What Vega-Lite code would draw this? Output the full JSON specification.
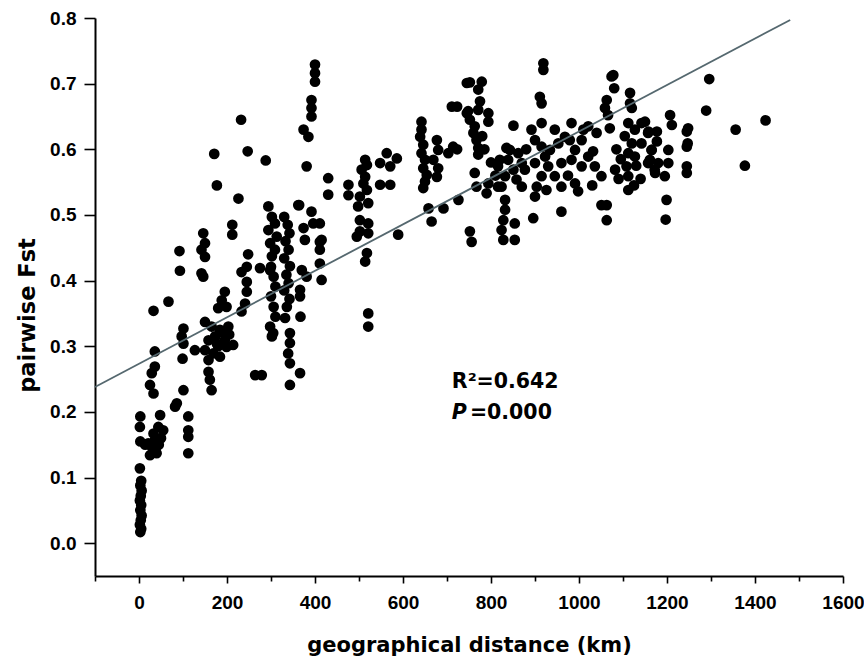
{
  "$schema": "https://vega.github.io/schema/vega-lite/v6.json",
  "width": 748,
  "height": 558,
  "autosize": "none",
  "padding": {"left": 95, "top": 18, "right": 21, "bottom": 82},
  "background": "white",
  "config": {"view": {"stroke": null}, "font": "Liberation Sans"},
  "layer": [
    {
      "data": {"values": [
        {"d":3,"f":0.017},{"d":5,"f":0.022},{"d":2,"f":0.028},{"d":4,"f":0.035},{"d":6,"f":0.042},{"d":3,"f":0.050},{"d":5,"f":0.058},{"d":2,"f":0.065},{"d":4,"f":0.072},{"d":6,"f":0.080},{"d":3,"f":0.088},{"d":5,"f":0.095},{"d":2,"f":0.114},{"d":3,"f":0.155},{"d":2,"f":0.177},{"d":3,"f":0.193},{"d":14,"f":0.150},
        {"d":33,"f":0.354},{"d":67,"f":0.368},{"d":36,"f":0.292},{"d":36,"f":0.269},{"d":29,"f":0.259},{"d":25,"f":0.241},{"d":33,"f":0.228},{"d":48,"f":0.195},{"d":44,"f":0.177},{"d":55,"f":0.172},{"d":36,"f":0.157},{"d":29,"f":0.147},{"d":25,"f":0.134},{"d":40,"f":0.137},{"d":33,"f":0.167},{"d":21,"f":0.152},{"d":50,"f":0.160},{"d":45,"f":0.150},{"d":38,"f":0.145},
        {"d":112,"f":0.193},{"d":112,"f":0.172},{"d":112,"f":0.162},{"d":112,"f":0.137},
        {"d":101,"f":0.233},{"d":86,"f":0.213},{"d":82,"f":0.208},
        {"d":101,"f":0.327},{"d":97,"f":0.315},{"d":101,"f":0.304},{"d":127,"f":0.294},{"d":99,"f":0.281},
        {"d":92,"f":0.445},{"d":93,"f":0.415},
        {"d":146,"f":0.472},{"d":150,"f":0.457},{"d":142,"f":0.447},{"d":150,"f":0.436},{"d":142,"f":0.411},{"d":146,"f":0.406},
        {"d":150,"f":0.337},{"d":165,"f":0.330},{"d":184,"f":0.325},{"d":203,"f":0.330},{"d":214,"f":0.302},{"d":158,"f":0.309},{"d":177,"f":0.304},{"d":195,"f":0.309},{"d":150,"f":0.294},{"d":169,"f":0.289},{"d":184,"f":0.284},{"d":158,"f":0.279},{"d":199,"f":0.299},{"d":173,"f":0.315},{"d":192,"f":0.320},{"d":180,"f":0.300},{"d":205,"f":0.318},
        {"d":158,"f":0.261},{"d":161,"f":0.249},{"d":165,"f":0.233},
        {"d":195,"f":0.383},{"d":188,"f":0.370},{"d":180,"f":0.358},{"d":199,"f":0.360},
        {"d":212,"f":0.485},{"d":212,"f":0.470},
        {"d":171,"f":0.593},{"d":247,"f":0.597},{"d":288,"f":0.583},{"d":177,"f":0.545},{"d":226,"f":0.525},{"d":232,"f":0.645},
        {"d":248,"f":0.440},{"d":245,"f":0.421},{"d":233,"f":0.413},{"d":275,"f":0.419},{"d":298,"f":0.416},{"d":245,"f":0.398},{"d":245,"f":0.383},{"d":241,"f":0.365},{"d":233,"f":0.353},
        {"d":264,"f":0.256},{"d":279,"f":0.256},
        {"d":298,"f":0.330},{"d":305,"f":0.320},
        {"d":294,"f":0.513},{"d":302,"f":0.497},{"d":309,"f":0.487},{"d":294,"f":0.477},{"d":313,"f":0.467},{"d":298,"f":0.457},{"d":309,"f":0.447},{"d":302,"f":0.437},
        {"d":300,"f":0.421},{"d":306,"f":0.406},{"d":310,"f":0.391},{"d":300,"f":0.376},{"d":306,"f":0.360},{"d":310,"f":0.345},{"d":302,"f":0.315},
        {"d":330,"f":0.497},{"d":338,"f":0.485},{"d":342,"f":0.472},{"d":333,"f":0.460},{"d":340,"f":0.447},{"d":330,"f":0.434},{"d":343,"f":0.422},{"d":335,"f":0.409},{"d":340,"f":0.396},{"d":330,"f":0.385},{"d":342,"f":0.372},{"d":336,"f":0.360},{"d":332,"f":0.343},{"d":343,"f":0.320},{"d":343,"f":0.305},{"d":339,"f":0.289},{"d":343,"f":0.274},{"d":343,"f":0.241},{"d":366,"f":0.259},
        {"d":364,"f":0.515},{"d":374,"f":0.480},{"d":377,"f":0.462},{"d":370,"f":0.416},{"d":366,"f":0.376},{"d":367,"f":0.345},
        {"d":392,"f":0.505},{"d":411,"f":0.487},{"d":411,"f":0.459},{"d":411,"f":0.447},{"d":411,"f":0.426},{"d":415,"f":0.401},
        {"d":396,"f":0.487},{"d":415,"f":0.462},{"d":381,"f":0.406},{"d":366,"f":0.386},
        {"d":400,"f":0.729},{"d":400,"f":0.716},{"d":400,"f":0.703},{"d":392,"f":0.675},{"d":392,"f":0.663},{"d":392,"f":0.650},{"d":374,"f":0.630},{"d":385,"f":0.619},{"d":381,"f":0.574},{"d":430,"f":0.556},{"d":430,"f":0.531},{"d":362,"f":0.515},
        {"d":514,"f":0.584},{"d":518,"f":0.576},{"d":506,"f":0.569},{"d":514,"f":0.558},{"d":510,"f":0.548},{"d":518,"f":0.538},{"d":502,"f":0.528},{"d":521,"f":0.518},{"d":498,"f":0.513},{"d":502,"f":0.492},{"d":521,"f":0.487},{"d":502,"f":0.475},{"d":521,"f":0.472},{"d":495,"f":0.467},{"d":518,"f":0.442},{"d":514,"f":0.429},{"d":521,"f":0.350},{"d":521,"f":0.330},
        {"d":476,"f":0.546},{"d":476,"f":0.530},
        {"d":548,"f":0.579},{"d":563,"f":0.594},{"d":586,"f":0.586},{"d":571,"f":0.574},{"d":571,"f":0.546},{"d":548,"f":0.546},{"d":589,"f":0.470},
        {"d":642,"f":0.642},{"d":642,"f":0.630},{"d":639,"f":0.619},{"d":646,"f":0.607},{"d":642,"f":0.594},{"d":650,"f":0.584},{"d":646,"f":0.571},{"d":654,"f":0.561},{"d":650,"f":0.551},{"d":646,"f":0.541},
        {"d":677,"f":0.614},{"d":680,"f":0.599},{"d":669,"f":0.584},{"d":680,"f":0.571},{"d":677,"f":0.558},{"d":714,"f":0.604},{"d":703,"f":0.594},{"d":658,"f":0.510},{"d":665,"f":0.490},{"d":692,"f":0.510},{"d":726,"f":0.523},{"d":711,"f":0.665},{"d":745,"f":0.701},{"d":745,"f":0.655},{"d":752,"f":0.475},
        {"d":752,"f":0.702},{"d":779,"f":0.703},{"d":771,"f":0.691},{"d":775,"f":0.673},{"d":748,"f":0.658},{"d":771,"f":0.660},{"d":794,"f":0.655},{"d":752,"f":0.645},{"d":763,"f":0.635},{"d":794,"f":0.642},{"d":760,"f":0.625},{"d":767,"f":0.614},{"d":771,"f":0.602},{"d":771,"f":0.592},{"d":780,"f":0.620},{"d":785,"f":0.600},
        {"d":723,"f":0.665},{"d":723,"f":0.600},
        {"d":835,"f":0.602},{"d":820,"f":0.584},{"d":839,"f":0.584},{"d":862,"f":0.594},{"d":870,"f":0.579},{"d":816,"f":0.574},{"d":851,"f":0.569},{"d":877,"f":0.569},{"d":832,"f":0.559},{"d":858,"f":0.554},{"d":816,"f":0.543},{"d":870,"f":0.543},{"d":843,"f":0.599},
        {"d":824,"f":0.543},{"d":832,"f":0.523},{"d":832,"f":0.508},{"d":828,"f":0.492},{"d":824,"f":0.477},{"d":828,"f":0.462},{"d":854,"f":0.487},{"d":854,"f":0.462},
        {"d":763,"f":0.564},{"d":767,"f":0.543},{"d":794,"f":0.548},{"d":790,"f":0.533},{"d":851,"f":0.636},{"d":756,"f":0.459},
        {"d":892,"f":0.630},{"d":915,"f":0.640},{"d":900,"f":0.614},{"d":945,"f":0.630},{"d":953,"f":0.609},{"d":923,"f":0.589},{"d":930,"f":0.574},{"d":945,"f":0.559},{"d":915,"f":0.559},{"d":900,"f":0.579},{"d":960,"f":0.579},{"d":915,"f":0.604},{"d":968,"f":0.619},{"d":934,"f":0.599},{"d":904,"f":0.543},{"d":926,"f":0.538},{"d":960,"f":0.543},{"d":983,"f":0.640},{"d":979,"f":0.614},{"d":900,"f":0.528},{"d":896,"f":0.495},{"d":960,"f":0.505},{"d":919,"f":0.731},{"d":919,"f":0.721},{"d":911,"f":0.680},{"d":915,"f":0.670},
        {"d":1006,"f":0.614},{"d":991,"f":0.599},{"d":1032,"f":0.597},{"d":1021,"f":0.635},{"d":983,"f":0.584},{"d":1006,"f":0.574},{"d":991,"f":0.548},{"d":998,"f":0.536},{"d":1036,"f":0.574},{"d":1051,"f":0.559},{"d":1021,"f":0.589},{"d":1051,"f":0.515},{"d":1063,"f":0.515},{"d":1063,"f":0.492},
        {"d":1078,"f":0.713},{"d":1074,"f":0.711},{"d":1080,"f":0.693},{"d":1063,"f":0.675},{"d":1059,"f":0.663},{"d":1066,"f":0.652},{"d":1070,"f":0.632},{"d":1082,"f":0.569},
        {"d":1116,"f":0.686},{"d":1116,"f":0.670},{"d":1120,"f":0.663},{"d":1112,"f":0.640},{"d":1127,"f":0.630},{"d":1142,"f":0.640},{"d":1157,"f":0.625},{"d":1104,"f":0.620},{"d":1120,"f":0.609},{"d":1142,"f":0.609},{"d":1165,"f":0.599},{"d":1112,"f":0.594},{"d":1127,"f":0.589},{"d":1157,"f":0.579},{"d":1172,"f":0.569},{"d":1108,"f":0.574},{"d":1112,"f":0.559},{"d":1112,"f":0.538},
        {"d":1296,"f":0.707},{"d":1289,"f":0.659},{"d":1356,"f":0.630},{"d":1424,"f":0.644},{"d":1377,"f":0.575},{"d":1207,"f":0.652},{"d":1211,"f":0.637},{"d":1248,"f":0.632},{"d":1245,"f":0.627},{"d":1247,"f":0.609},{"d":1245,"f":0.604},{"d":1245,"f":0.574},{"d":1245,"f":0.564},{"d":1199,"f":0.523},{"d":1197,"f":0.493},{"d":1150,"f":0.642},{"d":1158,"f":0.627},{"d":1177,"f":0.627},{"d":1177,"f":0.612},{"d":1165,"f":0.599},{"d":1203,"f":0.599},{"d":1161,"f":0.584},{"d":1180,"f":0.579},{"d":1203,"f":0.579},{"d":1173,"f":0.564},{"d":1195,"f":0.559},
        {"d":1040,"f":0.625},{"d":1010,"f":0.630},{"d":1085,"f":0.600},{"d":1095,"f":0.585},{"d":1090,"f":0.555},{"d":1030,"f":0.545},{"d":975,"f":0.560},{"d":880,"f":0.600},{"d":810,"f":0.560},{"d":800,"f":0.580},{"d":1130,"f":0.575},{"d":1140,"f":0.555},{"d":1125,"f":0.545}
      ]},
      "mark": {"type": "circle", "size": 115, "color": "black", "opacity": 1},
      "encoding": {
        "x": {"field": "d", "type": "quantitative",
          "scale": {"domain": [-100, 1600], "nice": false, "zero": false},
          "axis": {"title": "geographical distance (km)", "values": [-100,0,100,200,300,400,500,600,700,800,900,1000,1100,1200,1300,1400,1500,1600],
            "labelExpr": "datum.value % 200 === 0 ? datum.label : ''", "format": "d",
            "tickSize": {"condition": {"test": "datum.value % 200 === 0", "value": 7}, "value": 5},
            "tickWidth": 1.6, "tickColor": "black", "domainColor": "black", "domainWidth": 2, "grid": false,
            "labelFont": "Liberation Sans", "labelFontSize": 19, "labelFontWeight": "bold", "labelColor": "black", "labelPadding": 10, "labelFlush": false, "labelOverlap": false,
            "titleFont": "DejaVu Sans", "titleFontSize": 21, "titleFontWeight": "bold", "titleColor": "black", "titlePadding": 22}},
        "y": {"field": "f", "type": "quantitative",
          "scale": {"domain": [-0.05, 0.8], "nice": false, "zero": false},
          "axis": {"title": "pairwise Fst", "values": [0,0.05,0.1,0.15,0.2,0.25,0.3,0.35,0.4,0.45,0.5,0.55,0.6,0.65,0.7,0.75,0.8],
            "labelExpr": "abs(datum.value*10 - round(datum.value*10)) < 0.001 ? format(datum.value, '.1f') : ''",
            "tickSize": {"condition": {"test": "abs(datum.value*10 - round(datum.value*10)) < 0.001", "value": 11}, "value": 6},
            "tickWidth": 1.6, "tickColor": "black", "domainColor": "black", "domainWidth": 2, "grid": false,
            "labelFont": "Liberation Sans", "labelFontSize": 19, "labelFontWeight": "bold", "labelColor": "black", "labelPadding": 8, "labelOverlap": false,
            "titleFont": "DejaVu Sans", "titleFontSize": 22.5, "titleFontWeight": "bold", "titleColor": "black", "titlePadding": 10, "titleY": 297}}
      }
    },
    {
      "data": {"values": [{"d": -100, "f": 0.238}, {"d": 1480, "f": 0.797}]},
      "mark": {"type": "line", "color": "#55686f", "strokeWidth": 1.8},
      "encoding": {"x": {"field": "d", "type": "quantitative"}, "y": {"field": "f", "type": "quantitative"}}
    },
    {
      "data": {"values": [{"label": "R²=0.642"}]},
      "mark": {"type": "text", "align": "left", "baseline": "alphabetic", "font": "DejaVu Sans", "fontWeight": "bold", "fontSize": 20.5, "color": "black"},
      "encoding": {"x": {"datum": 711}, "y": {"datum": 0.236}, "text": {"field": "label", "type": "nominal"}}
    },
    {
      "data": {"values": [{"label": "P"}]},
      "mark": {"type": "text", "align": "left", "baseline": "alphabetic", "font": "DejaVu Sans", "fontWeight": "bold", "fontStyle": "italic", "fontSize": 20.5, "color": "black"},
      "encoding": {"x": {"datum": 711}, "y": {"datum": 0.189}, "text": {"field": "label", "type": "nominal"}}
    },
    {
      "data": {"values": [{"label": "=0.000"}]},
      "mark": {"type": "text", "align": "left", "baseline": "alphabetic", "font": "DejaVu Sans", "fontWeight": "bold", "fontSize": 20.5, "color": "black"},
      "encoding": {"x": {"datum": 752}, "y": {"datum": 0.189}, "text": {"field": "label", "type": "nominal"}}
    }
  ]
}
